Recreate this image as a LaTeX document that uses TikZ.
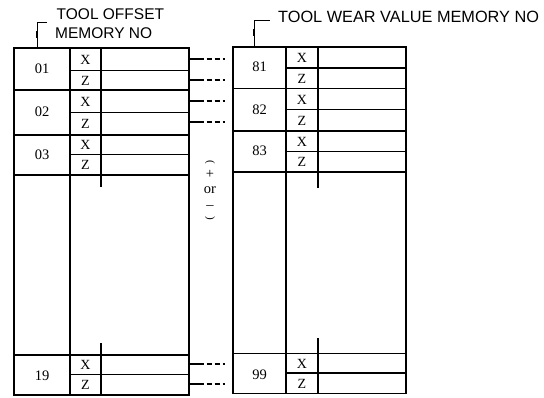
\documentclass[tikz,border=0pt]{standalone}
\usepackage{fontspec}
\setmainfont{Liberation Serif}
\newfontfamily\labelfont{Liberation Sans}
\begin{document}
\begin{tikzpicture}[x=1pt,y=-1pt,
  tbl/.style={line width=1.1pt},
  num/.style={font=\fontsize{14.5}{14.5}\selectfont, inner sep=0pt},
  axl/.style={font=\fontsize{14}{14}\selectfont, inner sep=0pt},
  lbl/.style={font=\labelfont\fontsize{15.5}{15.5}\selectfont, inner sep=0pt, anchor=west},
  leader/.style={line width=0.9pt},
  link/.style={line width=1.4pt, dash pattern=on 14pt off 3pt on 5pt off 3pt on 5pt off 3pt}]
\useasboundingbox (0,0) rectangle (544,397);

% ---------- left table (tool offset) ----------
\draw[tbl] (14,48) rectangle (189,395);
\draw[tbl] (70,48) -- (70,395);
\draw[tbl] (101,48) -- (101,187);
\draw[tbl] (101,343) -- (101,395);
\foreach \y in {90,135,175,355} \draw[tbl] (14,\y) -- (189,\y);
\foreach \y in {70.5,112.5,154.5,374.5} \draw[tbl] (70,\y) -- (189,\y);

\node[num] (o01) at (42,69) {01};
\node[num] (o02) at (42,112) {02};
\node[num] (o03) at (42,155) {03};
\node[num] (o19) at (42,376) {19};
\node[axl] (o01x) at (85.5,59.5) {X};
\node[axl] (o01z) at (85.5,80.5) {Z};
\node[axl] (o02x) at (85.5,101.5) {X};
\node[axl] (o02z) at (85.5,124) {Z};
\node[axl] (o03x) at (85.5,145) {X};
\node[axl] (o03z) at (85.5,165) {Z};
\node[axl] (o19x) at (85.5,365) {X};
\node[axl] (o19z) at (85.5,385) {Z};

% ---------- right table (wear value) ----------
\draw[tbl] (233,47) rectangle (406,393.5);
\draw[tbl] (286,47) -- (286,393.5);
\draw[tbl] (318,47) -- (318,188);
\draw[tbl] (318,338) -- (318,393.5);
\foreach \y in {88.5,131,172,353.5} \draw[tbl] (233,\y) -- (406,\y);
\foreach \y in {68,109.5,151.5,373} \draw[tbl] (286,\y) -- (406,\y);

\node[num] (w81) at (259.5,67) {81};
\node[num] (w82) at (259.5,110) {82};
\node[num] (w83) at (259.5,151) {83};
\node[num] (w99) at (259.5,375) {99};
\node[axl] (w81x) at (302,58) {X};
\node[axl] (w81z) at (302,78.5) {Z};
\node[axl] (w82x) at (302,99.5) {X};
\node[axl] (w82z) at (302,120.5) {Z};
\node[axl] (w83x) at (302,142) {X};
\node[axl] (w83z) at (302,162) {Z};
\node[axl] (w99x) at (302,363.5) {X};
\node[axl] (w99z) at (302,383.5) {Z};

% ---------- dashed links ----------
\foreach \i/\y in {1/59,2/80,3/101,4/122,5/364,6/384}{
  \coordinate (ls\i) at (189.5,\y);
  \coordinate (le\i) at (225,\y);
  \draw[link] (ls\i) -- (le\i);
}

% ---------- sign note ----------
\node[num, font=\fontsize{11}{11}\selectfont, rotate=-90] (pl) at (210,162) {(};
\node[num] (plus) at (210,174) {+};
\node[num] (orw) at (210,190) {or};
\node[num] (minus) at (210,207.5) {–};
\node[num, font=\fontsize{11}{11}\selectfont, rotate=-90] (pr) at (210,218) {)};

% ---------- leaders and labels ----------
\coordinate (la) at (37,48);
\coordinate (lb) at (37,22);
\coordinate (lc) at (47,22);
\draw[leader] (la) -- (lb) -- (lc);
\draw[line width=2.2pt] (37,31) -- (37,38);
\node[lbl] (t1) at (56.5,14) {TOOL OFFSET};
\node[lbl] (t2) at (55,33) {MEMORY NO};

\coordinate (ra) at (254,47);
\coordinate (rb) at (254,20);
\coordinate (rc) at (270,20);
\draw[leader] (ra) -- (rb) -- (rc);
\draw[line width=2.2pt] (254,29) -- (254,36);
\node[lbl, font=\labelfont\fontsize{16.3}{16.3}\selectfont] (t3) at (278,17) {TOOL WEAR VALUE MEMORY NO};
\end{tikzpicture}
\end{document}
